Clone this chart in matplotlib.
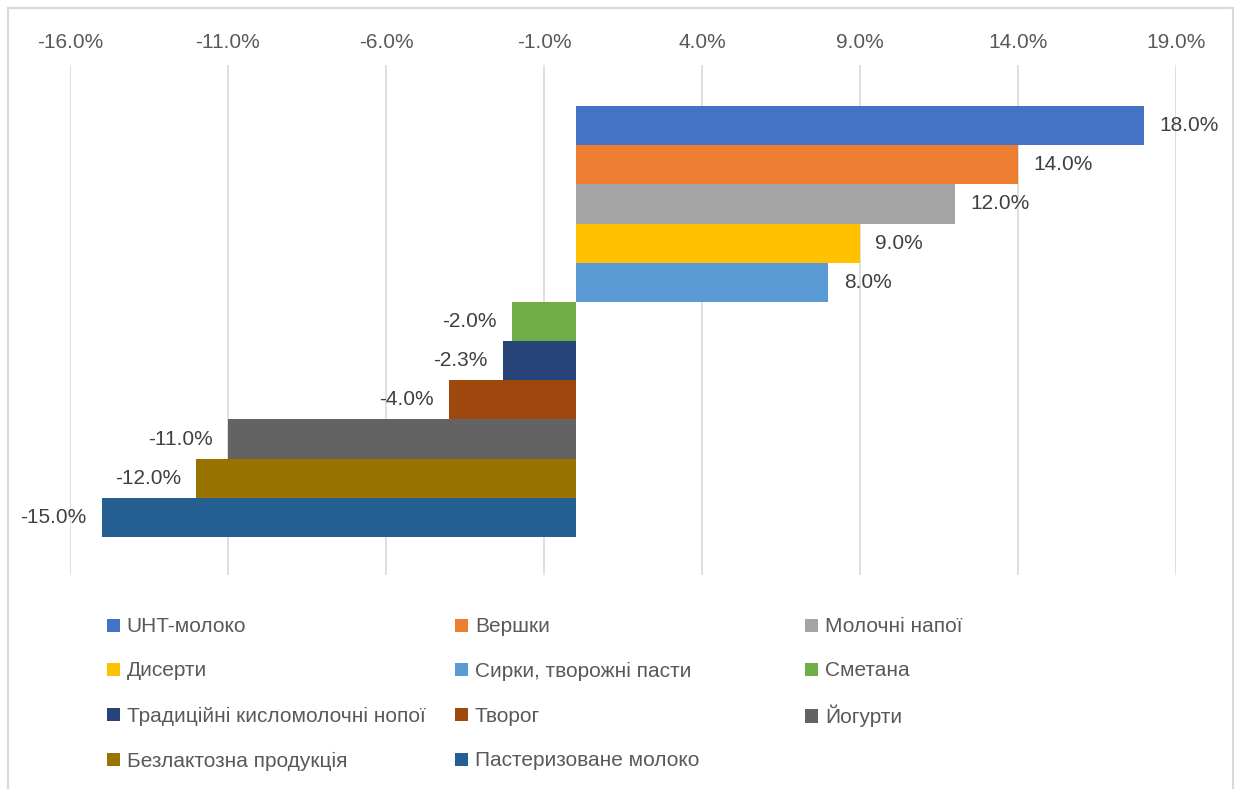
import matplotlib
matplotlib.use("Agg")
import matplotlib.pyplot as plt
from matplotlib.patches import Rectangle

# Data
categories = ['UHT-молоко', 'Вершки', 'Молочні напої', 'Дисерти',
              'Сирки, творожні пасти', 'Сметана', 'Традиційні кисломолочні нопої',
              'Творог', 'Йогурти', 'Безлактозна продукція', 'Пастеризоване молоко']
values = [18.0, 14.0, 12.0, 9.0, 8.0, -2.0, -2.3, -4.0, -11.0, -12.0, -15.0]
colors = ['#4472C4', '#ED7D31', '#A5A5A5', '#FFC000', '#5B9BD5', '#70AD47',
          '#264478', '#9E480E', '#636363', '#997300', '#255E91']
ticks = [-16, -11, -6, -1, 4, 9, 14, 19]

plt.rcParams['font.family'] = ['Liberation Sans', 'DejaVu Sans']
FS = 15

W, H = 1239, 789
fig = plt.figure(figsize=(W / 100, H / 100), dpi=100)
ax = fig.add_axes([70 / W, 1 - 575 / H, (1176 - 70) / W, (575 - 65) / H])

handles = []
for i, (name, v, c) in enumerate(zip(categories, values, colors)):
    b = ax.barh(i, v, height=1.0, color=c, label=name, zorder=2)
    ax.bar_label(b, labels=[f'{v:.1f}%'], padding=11, fontsize=FS, color='#404040')
    handles.append(b)

ax.set_xlim(-16, 19)
ax.set_ylim(11.47, -1.546)
ax.set_xticks(ticks)
ax.set_xticklabels([f'{t:.1f}%' for t in ticks])
ax.xaxis.tick_top()
ax.tick_params(axis='x', length=0, pad=9, labelsize=FS, labelcolor='#595959')
ax.set_yticks([])
ax.grid(axis='x', color='#d9d9d9', linewidth=1.2, zorder=0)
ax.set_axisbelow(True)
for s in ax.spines.values():
    s.set_visible(False)

# legend laid out as an Excel-style grid: 3 columns, row-major
col_x = [107, 455, 805]
row_y = [627, 671, 716, 761]
for k, (h, name) in enumerate(zip(handles, categories)):
    r, c = divmod(k, 3)
    fig.legend([h], [name], loc='center left',
               bbox_to_anchor=(col_x[c] / W, 1 - row_y[r] / H),
               frameon=False, fontsize=FS, labelcolor='#595959',
               handlelength=0.6, handleheight=0.6, handletextpad=0.35,
               borderpad=0, borderaxespad=0)

# chart border
fig.add_artist(Rectangle((8 / W, -0.05), (1233 - 8) / W, 1.05 - 8 / H,
                         transform=fig.transFigure, fill=False,
                         edgecolor='#d9d9d9', linewidth=1.5))

fig.savefig('out.png', dpi=100)
